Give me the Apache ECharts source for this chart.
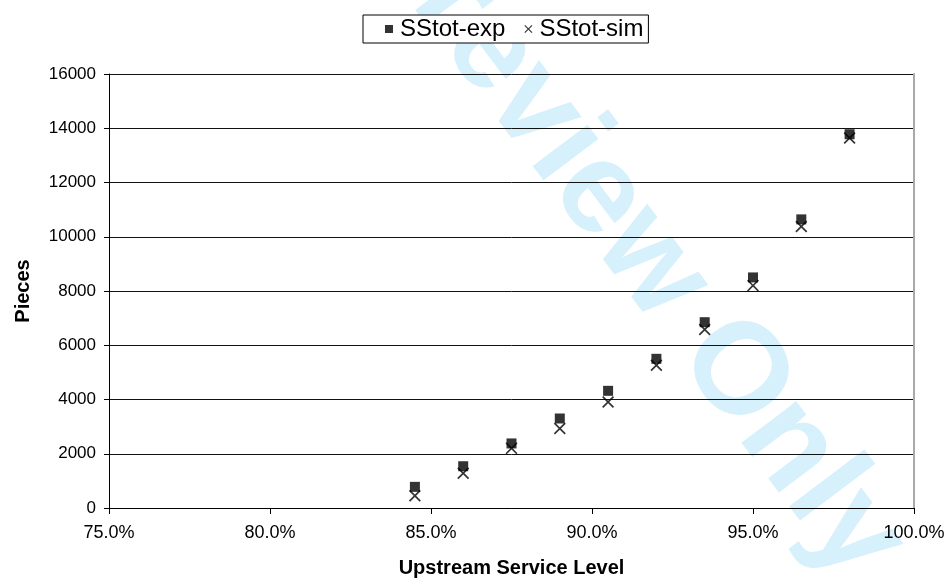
<!DOCTYPE html>
<html>
<head>
<meta charset="utf-8">
<title>SStot</title>
<script src="https://cdn.jsdelivr.net/npm/echarts@6/dist/echarts.min.js"></script>
<style>
  html, body { margin: 0; padding: 0; background: #fff; }
  #chart { width: 952px; height: 585px; }
</style>
</head>
<body>
<div id="chart"></div>
<script>
// service level (%) and piece counts
var levels = [84.5, 86, 87.5, 89, 90.5, 92, 93.5, 95, 96.5, 98];
var ssExp = [780, 1540, 2380, 3300, 4320, 5500, 6850, 8500, 10640, 13780];
var ssSim = [450, 1280, 2200, 2930, 3910, 5260, 6580, 8200, 10380, 13640];

var font = '"Liberation Sans", Arial, sans-serif';
var crossPath = 'path://M0,1L1,0L5,4L9,0L10,1L6,5L10,9L9,10L5,6L1,10L0,9L4,5Z';

function pairs(ys) {
  var out = [];
  for (var i = 0; i < levels.length; i++) out.push([levels[i], ys[i]]);
  return out;
}

var chart = echarts.init(document.getElementById('chart'));
chart.setOption({
  animation: false,
  textStyle: { fontFamily: font },
  graphic: [{
    type: 'text',
    x: 632, y: 238,
    rotation: -53 * Math.PI / 180,
    z: -10,
    silent: true,
    style: {
      text: 'Preview Only',
      fontFamily: font,
      fontSize: 130,
      fontWeight: 'bold',
      fill: '#d6f0fc',
      align: 'center',
      verticalAlign: 'middle'
    }
  }],
  legend: {
    top: 15,
    left: 363,
    padding: [2, 5, 2, 22],
    borderColor: '#000',
    borderWidth: 1,
    backgroundColor: '#fff',
    itemGap: 19,
    itemWidth: 8,
    itemHeight: 8,
    textStyle: { fontSize: 24, color: '#000', fontFamily: font, padding: [0, 0, 0, 2] },
    data: ['SStot-exp', 'SStot-sim']
  },
  grid: { left: 109, right: 38, top: 74, bottom: 77, containLabel: false },
  xAxis: {
    type: 'value',
    min: 75, max: 100, interval: 5,
    name: 'Upstream Service Level',
    nameLocation: 'middle',
    nameGap: 50,
    nameTextStyle: { fontSize: 20, fontWeight: 'bold', color: '#000', fontFamily: font },
    axisLine: { lineStyle: { color: '#000', width: 1 } },
    axisTick: { show: true, length: 6, lineStyle: { color: '#000' } },
    axisLabel: {
      fontSize: 18, color: '#000', margin: 16,
      formatter: function (v) { return v.toFixed(1) + '%'; }
    },
    splitLine: { show: false }
  },
  yAxis: [{
    type: 'value',
    min: 0, max: 16000, interval: 2000,
    name: 'Pieces',
    nameLocation: 'middle',
    nameGap: 76,
    nameTextStyle: { fontSize: 20, fontWeight: 'bold', color: '#000', fontFamily: font },
    axisLine: { show: true, lineStyle: { color: '#000', width: 1 } },
    axisTick: { show: true, length: 5, lineStyle: { color: '#000' } },
    axisLabel: {
      fontSize: 17, color: '#000', margin: 13,
      formatter: function (v) { return String(v); }
    },
    splitLine: { show: true, lineStyle: { color: '#111', width: 1 } }
  }, {
    type: 'value',
    position: 'right',
    min: 0, max: 16000, interval: 2000,
    axisLine: { show: true, lineStyle: { color: '#aaa', width: 2 } },
    axisTick: { show: false },
    axisLabel: { show: false },
    splitLine: { show: false }
  }],
  series: [{
    name: 'SStot-exp',
    type: 'scatter',
    symbol: 'rect',
    symbolSize: 10,
    itemStyle: { color: '#000' },
    data: pairs(ssExp),
    z: 3
  }, {
    name: 'SStot-sim',
    type: 'scatter',
    symbol: crossPath,
    symbolSize: 12,
    itemStyle: { color: '#000' },
    data: pairs(ssSim),
    z: 4
  }]
});
</script>
</body>
</html>
